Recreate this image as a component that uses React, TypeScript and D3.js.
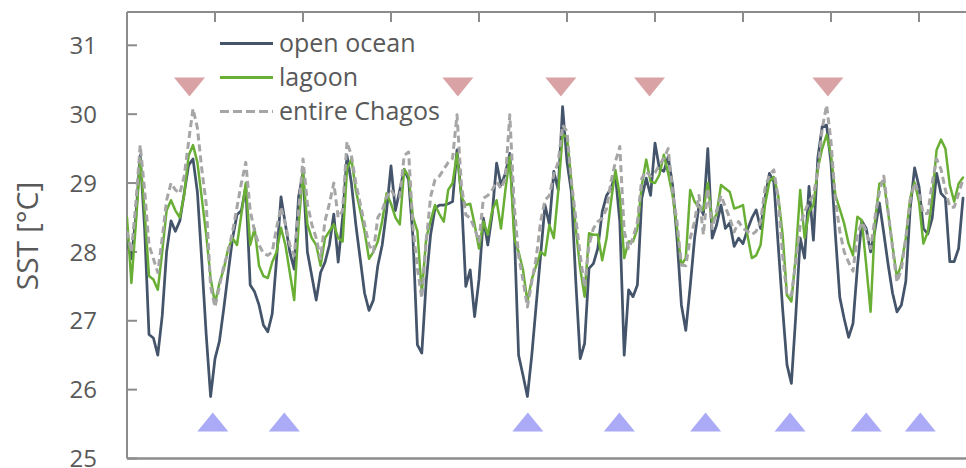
import React from "react";
import * as d3 from "d3";

// y-axis tick labels
const yTicks = [25, 26, 27, 28, 29, 30, 31];
// top-axis tick positions (in sample index units)
const xTickIdx = [20, 40, 60, 80, 100, 120, 140, 160, 180];

const openOcean = [
  28.15, 27.9, 28.5, 29.4, 28.35, 26.8, 26.75, 26.5, 27.07, 28.0,
  28.45, 28.3, 28.45, 28.85, 29.26, 29.35, 28.87, 27.86, 26.8, 25.9,
  26.45, 26.7, 27.18, 27.7, 28.2, 28.54, 28.6, 28.95, 27.52, 27.42,
  27.23, 26.94, 26.84, 27.1, 27.9, 28.8, 28.4, 28.0, 27.75, 28.8,
  29.15, 28.0, 27.65, 27.3, 27.7, 27.85, 28.1, 28.55, 27.85, 28.5,
  29.4, 29.0, 28.4, 27.9, 27.4, 27.15, 27.3, 27.8, 28.1, 28.6,
  29.25, 28.6, 28.9, 29.2, 29.05, 28.2, 26.65, 26.53, 27.57, 28.25,
  28.63, 28.68, 28.68, 28.7, 28.73, 29.48, 28.82, 27.5, 27.74, 27.06,
  27.6, 28.49, 28.1, 28.55, 29.29, 28.97, 29.14, 29.43, 28.34, 26.5,
  26.21, 25.9, 26.5, 27.23, 27.95, 28.68, 28.4, 29.17, 28.9, 30.11,
  29.31, 28.87, 27.57, 26.45, 26.67, 27.76, 27.83, 28.05, 28.58, 28.82,
  28.92, 29.12, 28.44, 26.5, 27.45, 27.35, 27.52, 28.78, 29.07, 28.82,
  29.58, 29.21, 29.17, 29.38, 28.97, 28.2, 27.23, 26.86, 27.5, 28.2,
  28.68, 28.54, 29.5, 28.2, 28.39, 28.68, 28.34, 28.42, 28.08, 28.2,
  28.12, 28.32, 28.49, 28.61, 28.34, 28.78, 29.14, 29.02, 28.1, 27.18,
  26.36, 26.09, 27.08, 28.2, 27.91, 28.95, 28.17, 29.36, 29.82, 29.84,
  29.29, 28.25, 27.34, 27.03, 26.76, 26.96, 27.78, 28.45, 28.34, 28.0,
  28.32, 28.71, 28.27, 27.81, 27.4, 27.13, 27.23, 27.57, 28.63, 29.22,
  28.95, 28.34, 28.26, 28.49, 29.14, 28.85, 28.78, 27.86, 27.86, 28.05,
  28.78,
];

const lagoon = [
  28.5, 27.55, 28.4, 29.35, 28.6, 27.65, 27.6, 27.45, 28.0, 28.6,
  28.75, 28.6, 28.5, 28.83, 29.4, 29.55, 29.3, 28.78, 28.25, 27.62,
  27.25, 27.55, 27.75, 28.05, 28.2, 28.1, 28.55, 29.0, 28.1, 28.34,
  27.8, 27.65, 27.62, 27.85, 28.0, 28.35, 28.1, 27.7, 27.3, 28.4,
  29.15, 28.4, 28.2, 28.1, 27.8, 28.2, 28.3, 28.4, 28.2, 28.15,
  29.2, 29.35, 28.9, 28.6, 28.3, 27.9, 28.0, 28.15, 28.45, 28.85,
  28.7, 28.5, 28.4, 29.2, 29.1, 28.5, 28.3, 27.4, 28.2, 28.45,
  28.68, 28.55, 28.44, 28.9, 29.0, 29.43, 28.8, 28.68, 28.7, 28.4,
  28.05, 28.44, 28.25, 28.6, 28.75, 28.34, 28.9, 29.38, 28.2, 28.0,
  27.74, 27.28, 27.6, 27.8, 28.0, 27.95, 28.39, 28.2, 28.87, 29.7,
  29.67, 29.02, 28.34, 27.76, 27.35, 28.27, 28.25, 28.25, 27.88, 28.2,
  28.73, 29.19, 28.82, 27.91, 28.15, 28.15, 28.34, 28.97, 29.34, 29.02,
  29.0, 29.12, 29.41, 29.14, 28.82, 28.34, 27.81, 27.91, 28.9, 28.73,
  28.65, 28.61, 29.0, 28.44, 28.55, 28.97, 28.92, 28.87, 28.63, 28.65,
  28.68, 28.25, 27.91, 27.95, 28.1, 28.68, 29.02, 29.09, 28.82, 28.25,
  27.37, 27.28, 27.95, 28.9, 28.2, 28.58, 28.68, 29.21, 29.5, 29.7,
  29.41, 28.82, 28.62, 28.41, 28.12, 27.95, 28.51, 28.46, 27.81, 27.13,
  28.44, 28.99, 29.02, 28.56, 28.08, 27.62, 27.83, 28.2, 28.78, 29.01,
  28.73, 28.12, 28.29, 28.78, 29.48, 29.63, 29.5, 28.97, 28.73, 28.99,
  29.08,
];

const entireChagos = [
  28.3, 28.0, 28.7, 29.55, 28.9, 28.1, 27.9, 27.7, 28.2, 28.75,
  29.0, 28.9, 28.85, 29.1, 29.6, 30.08, 29.8, 29.2, 28.7, 27.5,
  27.2, 27.5, 27.8, 28.0, 28.3, 28.65, 29.0, 29.3, 28.6, 28.3,
  28.1, 27.98, 27.95, 28.0, 28.35, 28.65, 28.4, 28.1, 27.95, 28.6,
  29.35, 28.7, 28.4, 28.2, 27.9, 28.45, 28.7, 29.0, 28.5, 28.6,
  29.6, 29.4, 29.0, 28.7, 28.4, 28.1, 28.0, 28.5, 28.6, 28.8,
  28.9, 28.8, 28.8, 29.4, 29.45, 28.35, 27.76, 27.33, 28.15, 28.8,
  29.05, 29.1, 29.2, 29.3, 29.36, 29.99, 28.97, 28.54, 28.49, 28.34,
  28.15, 28.78, 28.82, 28.9, 29.02, 28.92, 29.07, 29.99, 28.68, 27.95,
  27.59, 27.2, 27.57, 27.91, 28.44, 28.75, 28.82, 29.12, 29.3, 29.84,
  29.75, 29.02, 28.49, 27.95, 27.49, 28.1, 28.34, 28.44, 28.49, 28.63,
  29.02, 29.31, 29.53, 28.3, 28.05, 28.2, 28.44, 29.07, 29.17, 29.1,
  29.15, 29.26, 29.36, 29.5, 28.87, 28.44, 27.81, 27.8, 28.2, 28.44,
  28.82, 28.25, 28.92, 28.34, 28.6, 28.82, 28.65, 28.49, 28.29, 28.44,
  28.34, 28.3, 28.25, 28.3, 28.44, 28.92, 29.12, 29.19, 28.78, 27.95,
  27.37, 27.37, 27.86, 28.39, 28.58, 28.73, 28.82, 29.17, 29.79, 30.13,
  29.6, 28.75, 28.3, 28.0, 27.85, 27.72, 28.25, 28.43, 28.3, 28.05,
  28.5, 28.87, 29.1, 28.58, 28.05, 27.56, 27.75, 28.2, 28.75, 29.0,
  28.85, 28.55, 28.56, 29.0, 29.35, 29.2, 28.9, 28.65, 28.65, 28.85,
  29.05,
];

// event markers (sample index positions)
const warmEvents = [14.2, 75.2, 98.6, 118.75, 159.3];
const coldEvents = [19.5, 35.75, 91.1, 111.9, 131.5, 150.7, 168, 180.3];

const legendItems = [
  { label: "open ocean", color: "#44546a", dash: "" },
  { label: "lagoon", color: "#6aaf35", dash: "" },
  { label: "entire Chagos", color: "#a6a6a6", dash: "9,4" },
];

const W = 966;
const H = 468;
const FONT = "'Open Sans', 'DejaVu Sans', sans-serif";

export default function App() {
  const x = d3.scaleLinear().domain([0, 20]).range([127, 215]);
  const y = d3.scaleLinear().domain([25, 31]).range([458.5, 45.3]);
  const topY = 12;
  const axisColor = "#8c8c8c";
  const textColor = "#595959";

  const line = d3
    .line<number>()
    .x((_, i) => x(i))
    .y((d) => y(d));

  const tri = (cx: number, cy: number, down: boolean) => {
    const w = 15.5;
    const h = 19;
    return down
      ? `M${cx - w},${cy - h / 2}L${cx + w},${cy - h / 2}L${cx},${cy + h / 2}Z`
      : `M${cx - w},${cy + h / 2}L${cx + w},${cy + h / 2}L${cx},${cy - h / 2}Z`;
  };

  return (
    <svg
      width={W}
      height={H}
      style={{ position: "absolute", left: 0, top: 0, background: "#fff" }}
      fontFamily={FONT}
    >
      <defs>
        <clipPath id="plot">
          <rect x={127} y={topY} width={W - 127} height={458.5 - topY} />
        </clipPath>
      </defs>
      {/* frame */}
      <line x1={127} x2={W} y1={topY} y2={topY} stroke={axisColor} strokeWidth={2} />
      <line x1={127} x2={W} y1={458.5} y2={458.5} stroke={axisColor} strokeWidth={2.5} />
      <line x1={127} x2={127} y1={topY} y2={458.5} stroke={axisColor} strokeWidth={2} />
      {xTickIdx.map((t) => (
        <line key={t} x1={x(t)} x2={x(t)} y1={topY} y2={topY + 10} stroke={axisColor} strokeWidth={2} />
      ))}
      {yTicks.map((t) => (
        <g key={t}>
          <line x1={127} x2={137} y1={y(t)} y2={y(t)} stroke={axisColor} strokeWidth={2} />
          <text x={97} y={y(t)} dy="0.36em" textAnchor="end" fontSize={24} fill={textColor}>
            {t}
          </text>
        </g>
      ))}
      <text
        transform={`translate(27,236) rotate(-90)`}
        textAnchor="middle"
        dy="0.36em"
        fontSize={30}
        fill={textColor}
      >
        SST [°C]
      </text>

      {/* event markers */}
      {warmEvents.map((e, i) => (
        <path key={"w" + i} d={tri(x(e), 87, true)} fill="#d9a3a6" />
      ))}
      {coldEvents.map((e, i) => (
        <path key={"c" + i} d={tri(x(e), 422, false)} fill="#aaaaf7" />
      ))}

      <g clipPath="url(#plot)" fill="none" strokeLinejoin="round" strokeLinecap="round">
        <path d={line(openOcean) || ""} stroke="#44546a" strokeWidth={2.75} />
        <path d={line(lagoon) || ""} stroke="#6aaf35" strokeWidth={2.5} />
        <path d={line(entireChagos) || ""} stroke="#a6a6a6" strokeWidth={3} strokeDasharray="7,4" strokeLinecap="butt" />
      </g>

      {/* legend */}
      {legendItems.map((it, i) => {
        const ly = 43.5 + i * 34;
        return (
          <g key={it.label}>
            <line
              x1={220}
              x2={273}
              y1={ly}
              y2={ly}
              stroke={it.color}
              strokeWidth={3}
              strokeDasharray={it.dash || undefined}
            />
            <text x={279} y={ly} dy="0.33em" fontSize={25} fill={textColor}>
              {it.label}
            </text>
          </g>
        );
      })}
    </svg>
  );
}
